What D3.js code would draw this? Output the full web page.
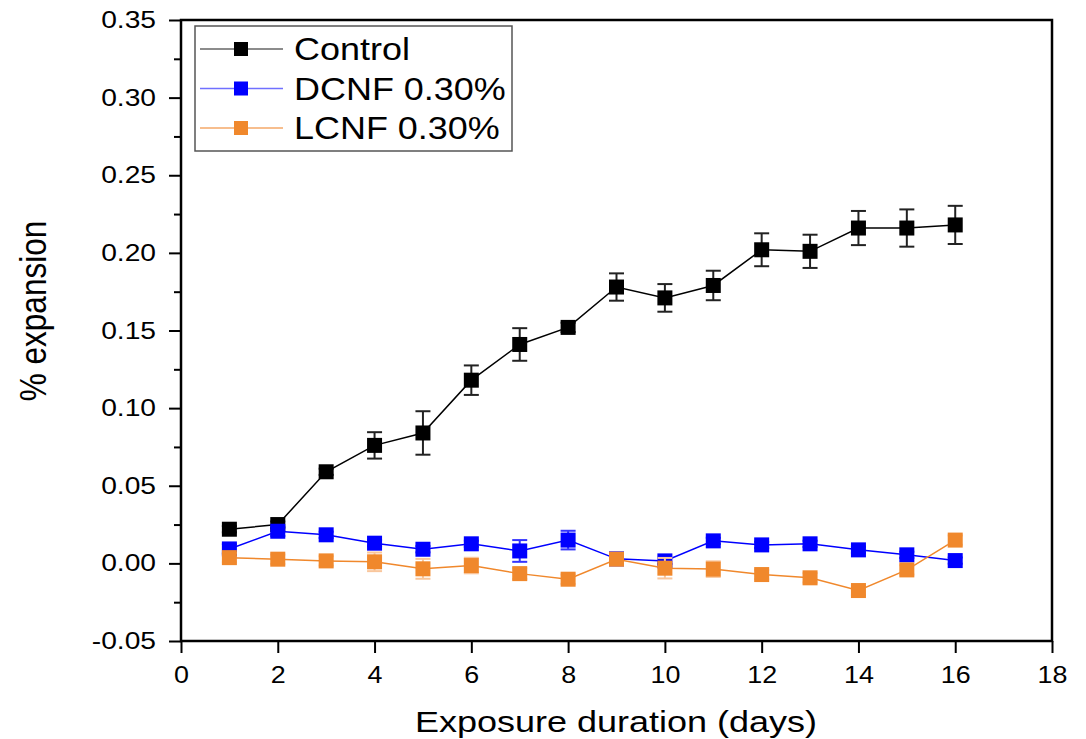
<!DOCTYPE html>
<html>
<head>
<meta charset="utf-8">
<script src="https://cdn.jsdelivr.net/npm/d3@7"></script>
<style>
  body { margin: 0; background: #fff; }
  svg { display: block; font-family: "Liberation Sans", Arial, sans-serif; }
</style>
</head>
<body>
<script>
const days = [1, 2, 3, 4, 5, 6, 7, 8, 9, 10, 11, 12, 13, 14, 15, 16]
const control = [0.022, 0.025, 0.059, 0.076, 0.084, 0.118, 0.141, 0.152, 0.178, 0.171, 0.179, 0.202, 0.201, 0.216, 0.216, 0.218]
const controlErr = [0.002, 0.002, 0.002, 0.0085, 0.014, 0.0095, 0.0105, 0.003, 0.0088, 0.0089, 0.0095, 0.0106, 0.0107, 0.011, 0.012, 0.0123]
const dcnf = [0.0093, 0.0207, 0.0184, 0.013, 0.0091, 0.0126, 0.008, 0.015, 0.0029, 0.0016, 0.0145, 0.0119, 0.0126, 0.0087, 0.0055, 0.0018]
const dcnfErr = [0.003, 0.003, 0.002, 0.002, 0.002, 0.002, 0.007, 0.006, 0.002, 0.002, 0.002, 0.002, 0.002, 0.002, 0.002, 0.002]
const lcnf = [0.0037, 0.0027, 0.0016, 0.001, -0.0035, -0.0014, -0.0066, -0.0102, 0.0027, -0.0031, -0.0037, -0.0072, -0.0093, -0.0175, -0.0042, 0.015]
const lcnfErr = [0.003, 0.003, 0.003, 0.006, 0.0064, 0.005, 0.0035, 0.003, 0.003, 0.0066, 0.005, 0.003, 0.003, 0.003, 0.003, 0.003]
const seriesNames = ['Control', 'DCNF 0.30%', 'LCNF 0.30%']
const xTicks = [0, 2, 4, 6, 8, 10, 12, 14, 16, 18]
const yTicks = [-0.05, 0, 0.05, 0.10, 0.15, 0.20, 0.25, 0.30, 0.35]

const series = [
  { name: seriesNames[0], vals: control, err: controlErr, color: '#000000', errColor: '#222', legendLine: '#666' },
  { name: seriesNames[1], vals: dcnf, err: dcnfErr, color: '#0000ff', errColor: '#3333ff', legendLine: '#7070ff' },
  { name: seriesNames[2], vals: lcnf, err: lcnfErr, color: '#f0882c', errColor: '#f9c69c', legendLine: '#f5a868' }
]

const W = 1086, H = 739
const margin = { left: 181, right: 34, top: 20, bottom: 98 }
const width = W - margin.left - margin.right
const height = H - margin.top - margin.bottom
const sx = 1.2 // the source picture is stretched sideways

const svg = d3.select('body').append('svg').attr('width', W).attr('height', H)

const x = d3.scaleLinear().domain([0, 18]).range([0, width])
const y = d3.scaleLinear().domain([-0.05, 0.35]).range([height, 0])

const g = svg.append('g').attr('transform', `translate(${margin.left},${margin.top})`)

// frame
g.append('rect')
  .attr('width', width).attr('height', height)
  .attr('fill', 'none').attr('stroke', '#000').attr('stroke-width', 2.5)

// minor y ticks
const minorY = d3.range(-0.025, 0.35, 0.05)
g.append('g')
  .call(d3.axisLeft(y).tickValues(minorY).tickSize(7).tickFormat(''))
  .call(a => a.select('.domain').remove())
  .call(a => a.selectAll('line').attr('stroke-width', 2))

const fmtY = d => d3.format('.2f')(d).replace('−', '-')

const yAxis = g.append('g')
  .call(d3.axisLeft(y).tickValues(yTicks).tickSize(12).tickPadding(13).tickFormat(fmtY))
yAxis.select('.domain').remove()
yAxis.selectAll('line').attr('stroke-width', 2)
yAxis.selectAll('text')
  .attr('font-size', 23.5).attr('fill', '#000').attr('font-family', '"Liberation Sans", Arial, sans-serif')
  .attr('x', 0)
  .attr('transform', `translate(-25,0) scale(${sx},1)`)

const xAxis = g.append('g')
  .attr('transform', `translate(0,${height})`)
  .call(d3.axisBottom(x).tickValues(xTicks).tickSize(12).tickPadding(13).tickFormat(d3.format('d')))
xAxis.select('.domain').remove()
xAxis.selectAll('line').attr('stroke-width', 2)
xAxis.selectAll('text')
  .attr('font-size', 24).attr('fill', '#000').attr('font-family', '"Liberation Sans", Arial, sans-serif')
  .attr('transform', `scale(1.12,1)`)

// axis titles
svg.append('text')
  .attr('transform', `translate(616,732) scale(${sx},1)`)
  .attr('text-anchor', 'middle')
  .attr('font-size', 30)
  .text('Exposure duration (days)')

svg.append('text')
  .attr('transform', `translate(46,311) scale(${sx},1) rotate(-90)`)
  .attr('text-anchor', 'middle')
  .attr('font-size', 31.5)
  .text('% expansion')

const line = d3.line().x((d, i) => x(days[i])).y(d => y(d))
const cap = 7.5, ms = 15

series.forEach(s => {
  const sg = g.append('g')
  sg.append('path')
    .attr('d', line(s.vals))
    .attr('fill', 'none').attr('stroke', s.color).attr('stroke-width', 1.5)

  const eb = sg.selectAll('.eb').data(s.vals).enter().append('g').attr('class', 'eb')
    .attr('stroke', s.errColor).attr('stroke-width', 2)
  eb.append('line')
    .attr('x1', (d, i) => x(days[i])).attr('x2', (d, i) => x(days[i]))
    .attr('y1', (d, i) => y(d + s.err[i])).attr('y2', (d, i) => y(d - s.err[i]))
  eb.append('line')
    .attr('x1', (d, i) => x(days[i]) - cap).attr('x2', (d, i) => x(days[i]) + cap)
    .attr('y1', (d, i) => y(d + s.err[i])).attr('y2', (d, i) => y(d + s.err[i]))
  eb.append('line')
    .attr('x1', (d, i) => x(days[i]) - cap).attr('x2', (d, i) => x(days[i]) + cap)
    .attr('y1', (d, i) => y(d - s.err[i])).attr('y2', (d, i) => y(d - s.err[i]))

  sg.selectAll('.mk').data(s.vals).enter().append('rect').attr('class', 'mk')
    .attr('x', (d, i) => x(days[i]) - ms / 2)
    .attr('y', d => y(d) - ms / 2)
    .attr('width', ms).attr('height', ms)
    .attr('fill', s.color)
})

// legend
const lg = svg.append('g').attr('transform', 'translate(195,26)')
lg.append('rect')
  .attr('width', 317).attr('height', 125)
  .attr('fill', '#fff').attr('stroke', '#555').attr('stroke-width', 1.5)
series.forEach((s, i) => {
  const cy = 23 + i * 39.5
  lg.append('line').attr('x1', 5).attr('x2', 88).attr('y1', cy).attr('y2', cy)
    .attr('stroke', s.legendLine).attr('stroke-width', 1.5)
  lg.append('rect').attr('x', 39).attr('y', cy - 7).attr('width', 14).attr('height', 14).attr('fill', s.color)
  lg.append('text')
    .attr('transform', `translate(99,${cy + 11}) scale(1.16,1)`)
    .attr('font-size', 31)
    .text(s.name)
})
</script>
</body>
</html>
